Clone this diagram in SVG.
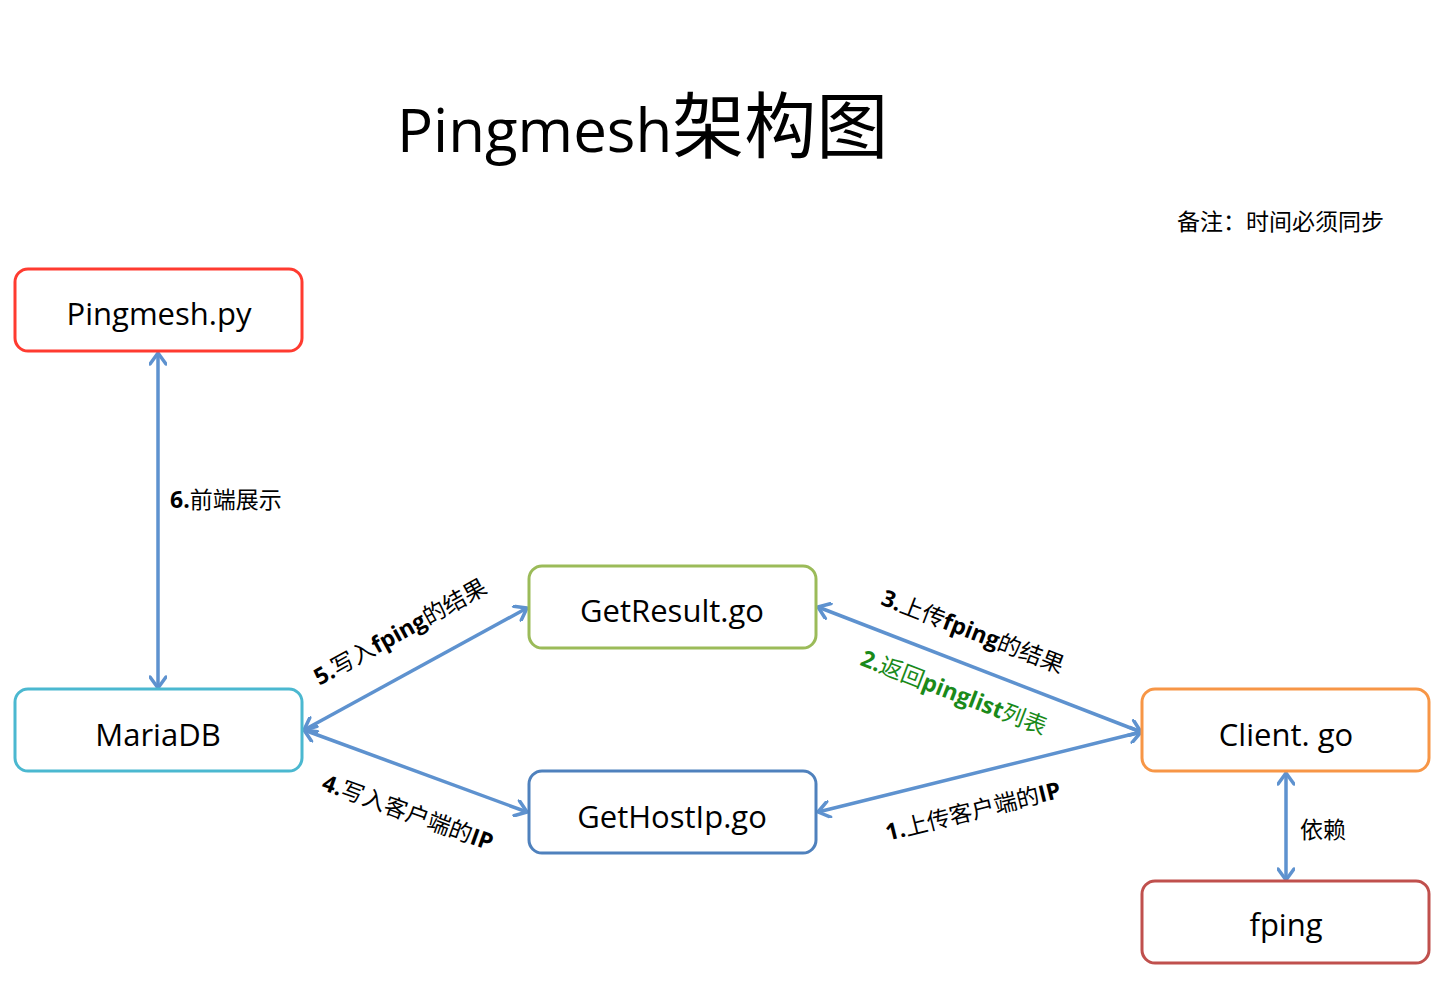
<svg xmlns="http://www.w3.org/2000/svg" width="1432" height="993" viewBox="0 0 1432 993">
<style>
.box{fill:#fff;stroke-width:3}
.nt{font-family:"Open Sans","Noto Sans",sans-serif;font-size:31px;fill:#000;text-anchor:middle}
.lbl{font-family:"Noto Sans CJK SC","Noto Sans",sans-serif;font-size:23px;fill:#000}
.b{font-family:"Open Sans","Noto Sans CJK SC",sans-serif;font-weight:bold}
.con{stroke:#5E92CF;stroke-width:3.5;fill:none;marker-start:url(#ah);marker-end:url(#ah)}
</style>
<defs>
<marker id="ah" viewBox="0 0 18 18" markerWidth="18" markerHeight="18" refX="16" refY="9" orient="auto-start-reverse" markerUnits="userSpaceOnUse">
<path d="M5,1 L16,9 L5,17" fill="none" stroke="#5E92CF" stroke-width="3.5" stroke-linecap="round" stroke-linejoin="round"/>
</marker>
</defs>
<rect width="1432" height="993" fill="#fff"/>
<text x="397" y="152" font-family="Open Sans,Noto Sans CJK SC,sans-serif" font-size="60" fill="#000">Pingmesh<tspan font-family="Noto Sans CJK SC,sans-serif" font-size="72">架构图</tspan></text>
<text class="lbl" x="1177" y="230" font-size="24">备注：时间必须同步</text>
<g id="connectors">
<line class="con" x1="158" y1="353" x2="158" y2="688"/>
<line class="con" x1="304" y1="730" x2="527" y2="608"/>
<line class="con" x1="304" y1="730" x2="527" y2="812"/>
<line class="con" x1="818" y1="607" x2="1141" y2="732"/>
<line class="con" x1="818" y1="812" x2="1141" y2="732"/>
<line class="con" x1="1286" y1="773" x2="1286" y2="880"/>
<text class="lbl" x="170" y="508"><tspan class="b">6.</tspan>前端展示</text>
<text class="lbl" text-anchor="middle" transform="translate(404,639) rotate(-29)"><tspan class="b">5.</tspan>写入<tspan class="b">fping</tspan>的结果</text>
<text class="lbl" text-anchor="middle" transform="translate(405,820) rotate(20)"><tspan class="b">4.</tspan>写入客户端的<tspan class="b">IP</tspan></text>
<text class="lbl" text-anchor="middle" transform="translate(970,639) rotate(21)"><tspan class="b">3.</tspan>上传<tspan class="b">fping</tspan>的结果</text>
<text class="lbl" text-anchor="middle" style="fill:#1A8A1A" transform="translate(951,700) rotate(21)"><tspan class="b">2.</tspan>返回<tspan class="b">pinglist</tspan>列表</text>
<text class="lbl" text-anchor="middle" transform="translate(975,819) rotate(-14)"><tspan class="b">1.</tspan>上传客户端的<tspan class="b">IP</tspan></text>
<text class="lbl" x="1300" y="838" font-size="24">依赖</text>
</g>
<g id="pingmesh"><rect class="box" x="15" y="269" width="287" height="82" rx="13" stroke="#FF3B30"/><text class="nt" x="159" y="325">Pingmesh.py</text></g>
<g id="mariadb"><rect class="box" x="15" y="689" width="287" height="82" rx="13" stroke="#4BB8D0"/><text class="nt" x="158" y="746">MariaDB</text></g>
<g id="getresult"><rect class="box" x="529" y="566" width="287" height="82" rx="13" stroke="#9BBB59"/><text class="nt" x="672" y="622">GetResult.go</text></g>
<g id="gethostip"><rect class="box" x="529" y="771" width="287" height="82" rx="13" stroke="#4F81BD"/><text class="nt" x="672" y="828">GetHostIp.go</text></g>
<g id="client"><rect class="box" x="1142" y="689" width="287" height="82" rx="13" stroke="#F79646"/><text class="nt" x="1286" y="746">Client. go</text></g>
<g id="fping"><rect class="box" x="1142" y="881" width="287" height="82" rx="13" stroke="#C0504D"/><text class="nt" x="1286" y="936">fping</text></g>
</svg>
